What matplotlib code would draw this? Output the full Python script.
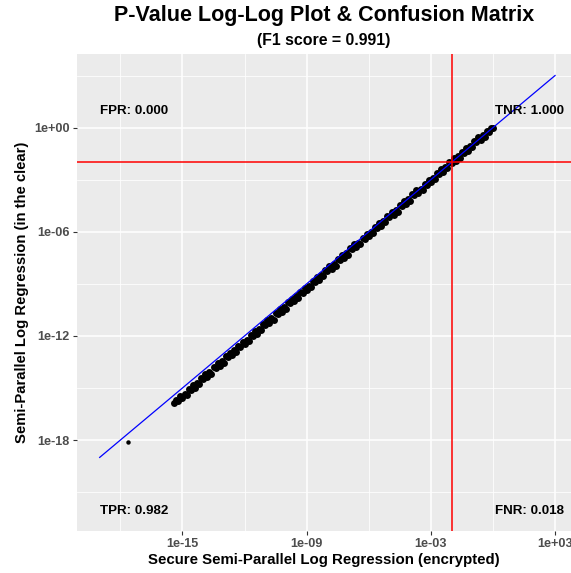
import matplotlib
matplotlib.use("Agg")
import matplotlib.pyplot as plt

# ---- data (log10 exponents) ----
x_exp = [-17.63,
 -15.4, -15.3, -15.2, -15.1, -15.0, -14.9, -14.8, -14.7, -14.6, -14.5,
 -14.4, -14.3, -14.2, -14.1, -14.0, -13.9, -13.8, -13.7, -13.6, -13.5,
 -13.4, -13.3, -13.2, -13.1, -13.0, -12.9, -12.8, -12.7, -12.6, -12.5,
 -12.4, -12.3, -12.2, -12.1, -12.0, -11.9, -11.8, -11.7, -11.6, -11.5,
 -11.4, -11.3, -11.2, -11.1, -11.0, -10.9, -10.8, -10.7, -10.6, -10.5,
 -10.4, -10.3, -10.2, -10.1, -10.0, -9.9, -9.8, -9.7, -9.6, -9.5,
 -9.4, -9.3, -9.2, -9.1, -9.0, -8.9, -8.8, -8.7, -8.6, -8.5,
 -8.4, -8.3, -8.2, -8.1, -8.0, -7.9, -7.8, -7.7, -7.6, -7.5,
 -7.4, -7.3, -7.2, -7.1, -7.0, -6.9, -6.8, -6.7, -6.6, -6.5,
 -6.4, -6.3, -6.2, -6.1, -6.0, -5.9, -5.8, -5.7, -5.6, -5.5,
 -5.4, -5.3, -5.2, -5.1, -5.0, -4.9, -4.8, -4.7, -4.6, -4.5,
 -4.4, -4.3, -4.2, -4.1, -4.0, -3.9, -3.8, -3.7, -3.6, -3.5,
 -3.4, -3.3, -3.2, -3.1, -3.0, -2.9, -2.8, -2.7, -2.6, -2.5,
 -2.4, -2.3, -2.2, -2.1, -2.0, -1.9, -1.8, -1.7, -1.6, -1.5,
 -1.4, -1.3, -1.2, -1.1, -1.0, -0.9, -0.8, -0.7, -0.6, -0.5,
 -0.4, -0.3, -0.2, -0.1, 0.0]
y_exp = [-18.10,
 -15.85, -15.67, -15.73, -15.45, -15.60, -15.33, -15.41, -15.05, -15.11, -14.82,
 -14.98, -14.71, -14.79, -14.43, -14.48, -14.20, -14.36, -14.08, -14.17, -13.81,
 -13.86, -13.58, -13.73, -13.46, -13.55, -13.18, -13.24, -12.96, -13.11, -12.84,
 -12.93, -12.56, -12.62, -12.33, -12.49, -12.22, -12.30, -11.94, -12.00, -11.71,
 -11.87, -11.59, -11.68, -11.32, -11.37, -11.09, -11.25, -10.97, -11.06, -10.70,
 -10.75, -10.47, -10.62, -10.35, -10.44, -10.07, -10.13, -9.85, -10.00, -9.73,
 -9.81, -9.45, -9.51, -9.22, -9.38, -9.11, -9.19, -8.83, -8.88, -8.60,
 -8.76, -8.48, -8.57, -8.21, -8.26, -7.98, -8.14, -7.86, -7.95, -7.58,
 -7.64, -7.36, -7.51, -7.24, -7.33, -6.96, -7.02, -6.73, -6.89, -6.62,
 -6.70, -6.34, -6.40, -6.11, -6.27, -5.99, -6.08, -5.72, -5.77, -5.49,
 -5.65, -5.37, -5.46, -5.10, -5.15, -4.87, -5.02, -4.75, -4.84, -4.47,
 -4.53, -4.25, -4.40, -4.13, -4.21, -3.85, -3.91, -3.62, -3.78, -3.51,
 -3.59, -3.23, -3.28, -3.00, -3.16, -2.88, -2.97, -2.61, -2.66, -2.38,
 -2.54, -2.26, -2.35, -1.98, -2.04, -1.76, -1.92, -1.65, -1.74, -1.38,
 -1.44, -1.16, -1.32, -1.05, -1.14, -0.78, -0.84, -0.56, -0.72, -0.45,
 -0.54, -0.18, -0.24, -0.04, 0.0]

diag_range = [1e-19, 1e3]          # y = x reference line
threshold = 1e-2                   # significance cut (red lines)
x_ticks = [1e-15, 1e-9, 1e-3, 1e3]
x_tick_labels = ["1e-15", "1e-09", "1e-03", "1e+03"]
y_ticks = [1e-18, 1e-12, 1e-6, 1e0]
y_tick_labels = ["1e-18", "1e-12", "1e-06", "1e+00"]
x_minor = [1e-18, 1e-12, 1e-6, 1e0]
y_minor = [1e-21, 1e-15, 1e-9, 1e-3, 1e3]
corner_labels = {"FPR": "FPR: 0.000", "TNR": "TNR: 1.000",
                 "TPR": "TPR: 0.982", "FNR": "FNR: 0.018"}
title = "P-Value Log-Log Plot & Confusion Matrix"
subtitle = "(F1 score = 0.991)"
xlabel = "Secure Semi-Parallel Log Regression (encrypted)"
ylabel = "Semi-Parallel Log Regression (in the clear)"

plt.rcParams['font.family'] = ['Liberation Sans', 'DejaVu Sans']

fig = plt.figure(figsize=(5.71, 5.73), dpi=100)
ax = fig.add_axes([76.7/571, 1-531/573, (571-76.7)/571, (531-54)/573])
ax.set_facecolor("#EBEBEB")
for s in ax.spines.values():
    s.set_visible(False)

ax.set_xscale("log")
ax.set_yscale("log")
ax.set_xlim(10**-20.11, 10**3.77)
ax.set_ylim(10**-23.24, 10**4.24)

# grid
for v in x_minor:
    ax.axvline(v, color="white", lw=0.55, zorder=0)
for v in y_minor:
    ax.axhline(v, color="white", lw=0.55, zorder=0)
for v in x_ticks:
    ax.axvline(v, color="white", lw=1.1, zorder=0.5)
for v in y_ticks:
    ax.axhline(v, color="white", lw=1.1, zorder=0.5)

xs = [10**e for e in x_exp]
ys = [10**e for e in y_exp]
# isolated outlier (first point) drawn at the plain dot size, dense band with larger dots
ax.plot(xs[:1], ys[:1], "o", color="black", markersize=3.2, markeredgewidth=0, zorder=2)
ax.plot(xs[1:], ys[1:], "o", color="black", markersize=5.0, markeredgewidth=0, zorder=2)
ax.plot(diag_range, diag_range, color="blue", lw=0.9, zorder=3)
ax.axvline(threshold, color="red", lw=1.1, zorder=4)
ax.axhline(threshold, color="red", lw=1.1, zorder=4)

ax.set_xticks(x_ticks)
ax.set_xticklabels(x_tick_labels)
ax.set_yticks(y_ticks)
ax.set_yticklabels(y_tick_labels)
ax.minorticks_off()
ax.tick_params(axis="both", which="major", length=3, width=0.8, color="#333333",
               labelcolor="#4D4D4D", labelsize=9.1, pad=2)
for lab in ax.get_xticklabels() + ax.get_yticklabels():
    lab.set_fontweight("bold")

ax.set_xlabel(xlabel, fontsize=10.8, fontweight="bold", labelpad=2)
ax.set_ylabel(ylabel, fontsize=10.7, fontweight="bold", labelpad=4)

tkw = dict(fontsize=9.6, fontweight="bold", va="center", color="black")
ax.text(10**-19.0, 10**0.96, corner_labels["FPR"], ha="left", **tkw)
ax.text(10**3.42, 10**0.96, corner_labels["TNR"], ha="right", **tkw)
ax.text(10**-19.0, 10**-22.07, corner_labels["TPR"], ha="left", **tkw)
ax.text(10**3.42, 10**-22.07, corner_labels["FNR"], ha="right", **tkw)

cx = (76.7 + 571) / 2 / 571
fig.text(cx, 1 - 16/573, title, ha="center", va="center", fontsize=15.5, fontweight="bold")
fig.text(cx, 1 - 40/573, subtitle, ha="center", va="center", fontsize=11.4, fontweight="bold")

fig.savefig("out.png", dpi=100)
